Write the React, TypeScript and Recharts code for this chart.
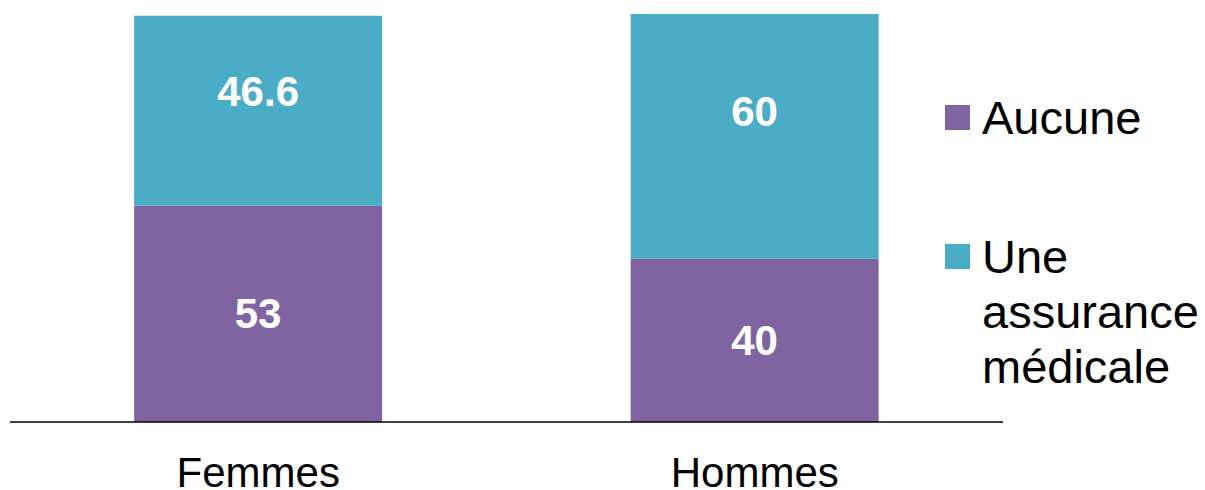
import { BarChart, Bar, XAxis, YAxis, Legend, LabelList } from 'recharts'

const categories = ['Femmes', 'Hommes']
const aucune = [53, 40]
const assurance = [46.6, 60]

const seriesNames = ['Aucune', 'Une assurance médicale']
const PURPLE = '#8064A2'
const TEAL = '#4BACC6'

const data = categories.map((name, i) => ({
  name,
  aucune: aucune[i],
  assurance: assurance[i],
}))

const FONT = '"Liberation Sans", Arial, sans-serif'

// label placée dans le segment (ratio de la hauteur depuis le haut)
function makeLabel(ratio: number) {
  return (props: any) => {
    const { x, y, width, height, value } = props
    return (
      <text
        x={x + width / 2}
        y={y + height * ratio}
        textAnchor="middle"
        dominantBaseline="central"
        fill="#fff"
        fontFamily={FONT}
        fontWeight="bold"
        fontSize={42}
      >
        {value}
      </text>
    )
  }
}

function LegendBox() {
  const colors = [PURPLE, TEAL]
  return (
    <div style={{ fontFamily: FONT, fontSize: 47, lineHeight: '55px', color: '#000' }}>
      {seriesNames.map((n, i) => (
        <div
          key={n}
          style={{ position: 'relative', paddingLeft: 37, marginTop: i === 0 ? 0 : 84, width: 230 }}
        >
          <span
            style={{
              position: 'absolute',
              left: 0,
              top: 15,
              width: 25,
              height: 25,
              backgroundColor: colors[i],
            }}
          />
          {n}
        </div>
      ))}
    </div>
  )
}

export default function App() {
  return (
    <div style={{ position: 'absolute', left: 0, top: 0, width: 1205, height: 490, background: '#fff' }}>
      <BarChart
        width={1205}
        height={490}
        data={data}
        margin={{ top: 14, right: 202, left: 10, bottom: 0 }}
        barCategoryGap="25%"
      >
        <XAxis
          dataKey="name"
          height={68}
          tickLine={false}
          tickSize={0}
          tickMargin={35}
          axisLine={{ stroke: '#000', strokeWidth: 1.5 }}
          tick={{ fontSize: 42, fill: '#000', fontFamily: FONT }}
        />
        <YAxis hide domain={[0, 100]} />
        <Legend
          layout="horizontal"
          verticalAlign="middle"
          align="center"
          content={() => <LegendBox />}
          wrapperStyle={{ left: 945, top: 90, width: 260 }}
        />
        <Bar dataKey="aucune" stackId="a" fill={PURPLE} isAnimationActive={false}>
          <LabelList dataKey="aucune" content={makeLabel(0.5)} />
        </Bar>
        <Bar dataKey="assurance" stackId="a" fill={TEAL} isAnimationActive={false}>
          <LabelList dataKey="assurance" content={makeLabel(0.4)} />
        </Bar>
      </BarChart>
    </div>
  )
}
